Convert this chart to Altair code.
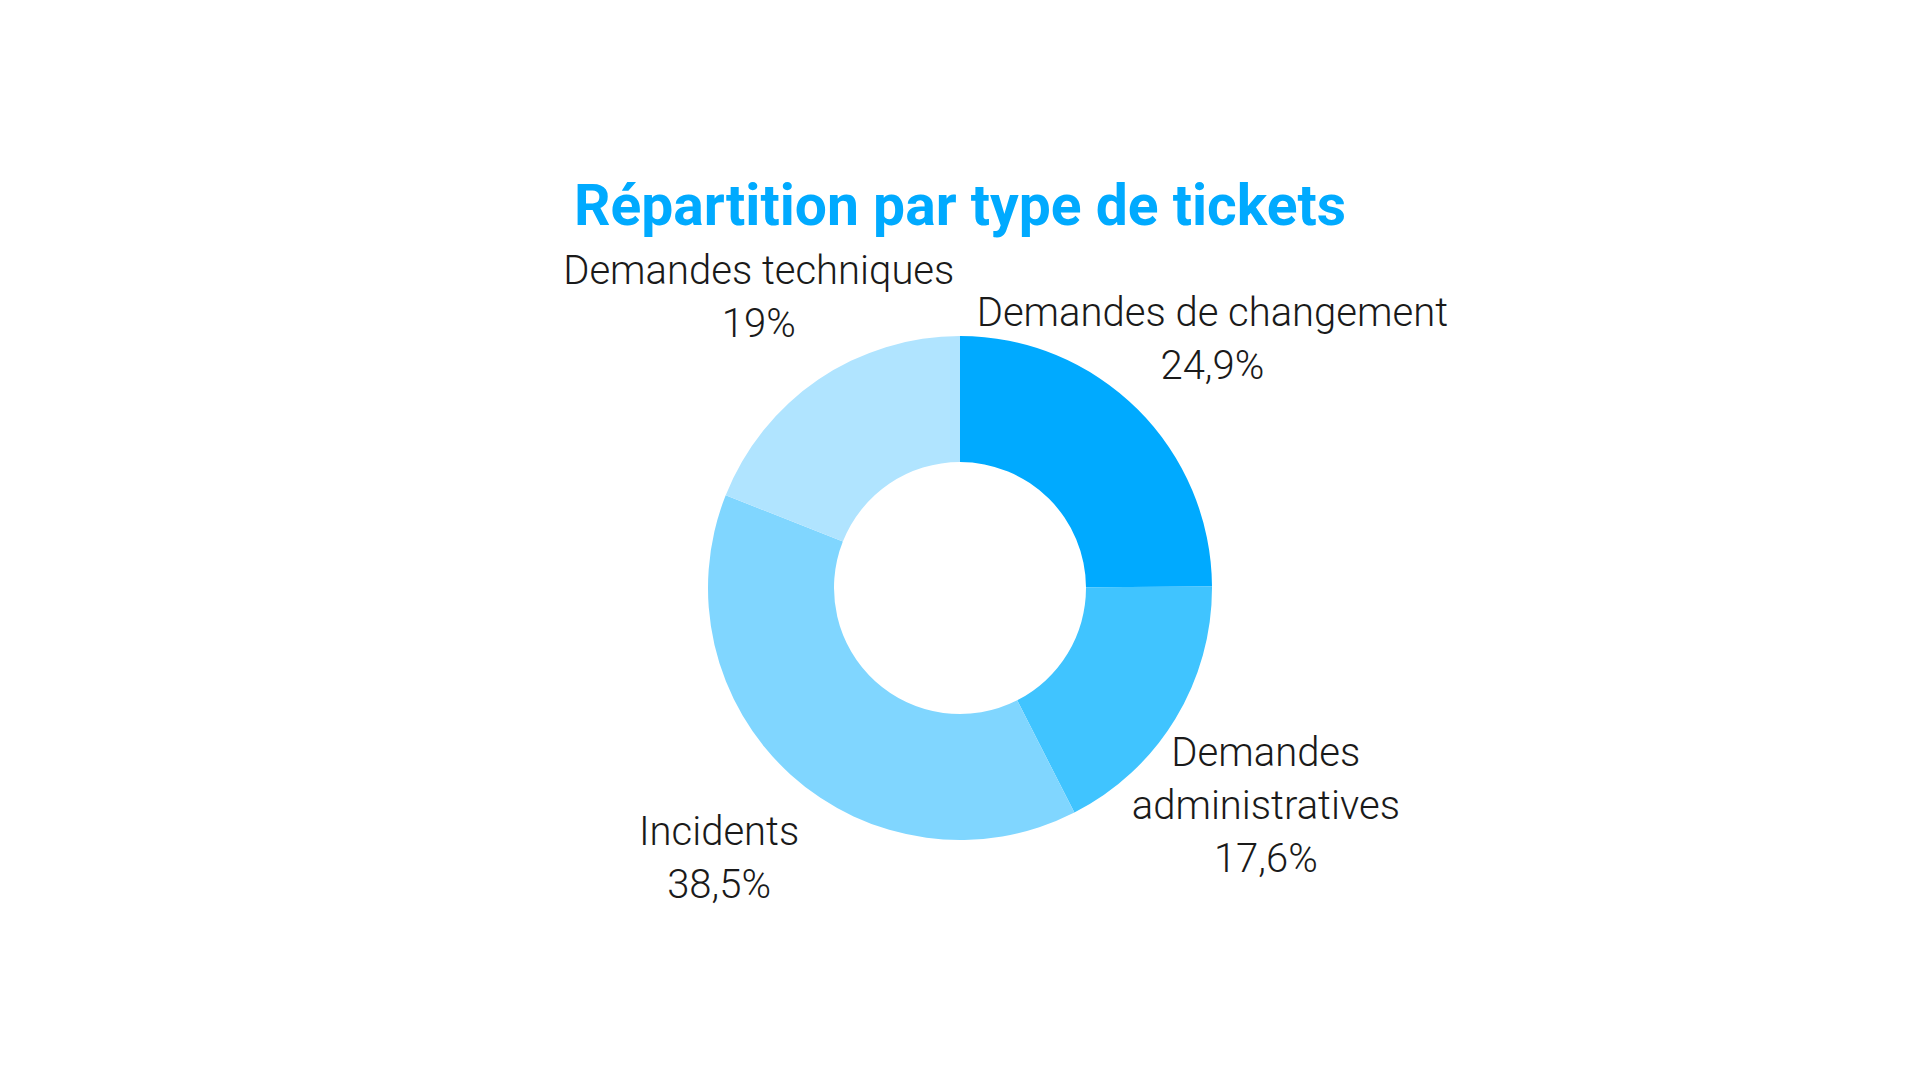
import altair as alt
import pandas as pd

categories = ["Demandes de changement", "Demandes administratives", "Incidents", "Demandes techniques"]
values = [24.9, 17.6, 38.5, 19.0]
label_names = ["Demandes de changement", "Demandes\nadministratives", "Incidents", "Demandes techniques"]
label_values = ["24,9%", "17,6%", "38,5%", "19%"]
colors = ["#00AAFF", "#40C4FF", "#80D6FF", "#B0E4FF"]

df = pd.DataFrame({
    "categorie": categories,
    "valeur": values,
    "ordre": list(range(len(categories))),
    "etiquette": [n + "\n" + v for n, v in zip(label_names, label_values)],
})

base = alt.Chart(df).encode(
    theta=alt.Theta("valeur:Q", stack=True),
    order=alt.Order("ordre:Q", sort="ascending"),
)

arcs = base.mark_arc(outerRadius=252, innerRadius=126, stroke=None).encode(
    color=alt.Color("categorie:N", scale=alt.Scale(domain=categories, range=colors), legend=None)
)

labels = base.mark_text(
    radius=358, fontSize=40, font="Roboto", fontWeight=300, color="#1a1a1a",
    lineBreak="\n", lineHeight=53, align="center", baseline="middle", dy=-20,
).encode(text="etiquette:N")

chart = alt.layer(arcs, labels).properties(
    width=1920,
    height=676,
    autosize=alt.AutoSizeParams(type="none"),
    padding={"top": 250, "left": 0, "right": 0, "bottom": 0},
    title=alt.TitleParams(
        "Répartition par type de tickets",
        fontSize=57, font="Roboto", fontWeight="bold", color="#00AAFF",
        anchor="middle", baseline="alphabetic", offset=-32,
    ),
).configure_view(stroke=None)

chart.save("out.html", embed_options={"renderer": "svg", "actions": False})
